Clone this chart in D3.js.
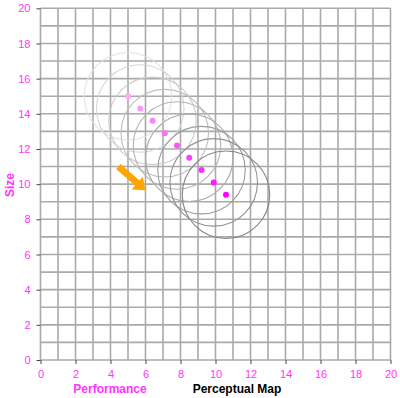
<!DOCTYPE html>
<html>
<head>
<style>
body { margin: 0; background: #fff; }
text { font-family: "Liberation Sans", Arial, sans-serif; }
</style>
</head>
<body>
<svg width="400" height="398"></svg>
<script src="https://d3js.org/d3.v7.min.js"></script>
<script>
// perceptual map data: performance (x) vs size (y), one snapshot per period
var perf = [5.0, 5.7, 6.4, 7.1, 7.8, 8.5, 9.2, 9.9, 10.6];
var size = [15.0, 14.3, 13.6, 12.9, 12.2, 11.5, 10.8, 10.1, 9.4];
var radius = [2.5, 2.5, 2.5, 2.5, 2.5, 2.5, 2.5, 2.5, 2.5];
var xTicks = [0, 2, 4, 6, 8, 10, 12, 14, 16, 18, 20];
var yTicks = [0, 2, 4, 6, 8, 10, 12, 14, 16, 18, 20];
var arrowFrom = [4.45, 11.0], arrowTo = [6.0, 9.65];

var svg = d3.select("svg");
var x = d3.scaleLinear().domain([0, 20]).range([40.5, 390.5]);
var y = d3.scaleLinear().domain([0, 20]).range([360, 8.3]);

// grid
var grid = svg.append("g");
grid.selectAll(".gx").data(d3.range(0, 21)).enter().append("line")
    .attr("x1", d => x(d)).attr("x2", d => x(d))
    .attr("y1", y(0)).attr("y2", y(20))
    .attr("stroke", "#aaa").attr("stroke-width", 1.6);
grid.selectAll(".gy").data(d3.range(0, 21)).enter().append("line")
    .attr("y1", d => y(d)).attr("y2", d => y(d))
    .attr("x1", x(0)).attr("x2", x(20))
    .attr("stroke", "#aaa").attr("stroke-width", 1.6);

// axes
var xAxis = svg.append("g").attr("transform", "translate(0," + y(0) + ")")
    .call(d3.axisBottom(x).tickValues(xTicks).tickSize(4).tickPadding(6));
var yAxis = svg.append("g").attr("transform", "translate(" + x(0) + ",0)")
    .call(d3.axisLeft(y).tickValues(yTicks).tickSize(4).tickPadding(6));
[xAxis, yAxis].forEach(function(a) {
    a.select(".domain").remove();
    a.selectAll(".tick line").attr("stroke", "#444");
    a.selectAll("text").attr("fill", "#ff33ff").style("font-size", "11px");
});

// circles, darkening over time
var n = perf.length;
var grey = d3.scaleLinear().domain([0, n - 1]).range(["#e2e2e2", "#858585"]);
var dotCol = d3.scaleLinear().domain([0, n - 1]).range(["#ffaaff", "#ff00ff"]);
svg.append("g").selectAll("circle").data(d3.range(n)).enter().append("circle")
    .attr("cx", i => x(perf[i])).attr("cy", i => y(size[i]))
    .attr("r", i => x(radius[i]) - x(0))
    .attr("fill", "none").attr("stroke", i => grey(i)).attr("stroke-width", 1.1);
svg.append("g").selectAll("circle").data(d3.range(n)).enter().append("circle")
    .attr("cx", i => x(perf[i])).attr("cy", i => y(size[i]))
    .attr("r", 3)
    .attr("fill", i => dotCol(i));

// arrow
var ax0 = x(arrowFrom[0]), ay0 = y(arrowFrom[1]), ax1 = x(arrowTo[0]), ay1 = y(arrowTo[1]);
var ang = Math.atan2(ay1 - ay0, ax1 - ax0), len = Math.hypot(ax1 - ax0, ay1 - ay0);
var hl = 11, hw = 8.5, sw = 3.4;
var arrow = svg.append("g").attr("transform", "translate(" + ax0 + "," + ay0 + ") rotate(" + (ang * 180 / Math.PI) + ")");
arrow.append("path")
    .attr("d", "M0," + (-sw) + "L" + (len - hl) + "," + (-sw) + "L" + (len - hl) + "," + (-hw) +
        "L" + len + ",0L" + (len - hl) + "," + hw + "L" + (len - hl) + "," + sw + "L0," + sw + "Z")
    .attr("fill", "#ffa500");

// labels
svg.append("text").attr("x", 110).attr("y", 393).attr("text-anchor", "middle")
    .attr("fill", "#ff33ff").style("font-size", "12px").style("font-weight", "bold").text("Performance");
svg.append("text").attr("x", 237).attr("y", 393).attr("text-anchor", "middle")
    .attr("fill", "#000").style("font-size", "12px").style("font-weight", "bold").text("Perceptual Map");
svg.append("text").attr("transform", "translate(14,185) rotate(-90)").attr("text-anchor", "middle")
    .attr("fill", "#ff33ff").style("font-size", "12px").style("font-weight", "bold").text("Size");
</script>
</body>
</html>
